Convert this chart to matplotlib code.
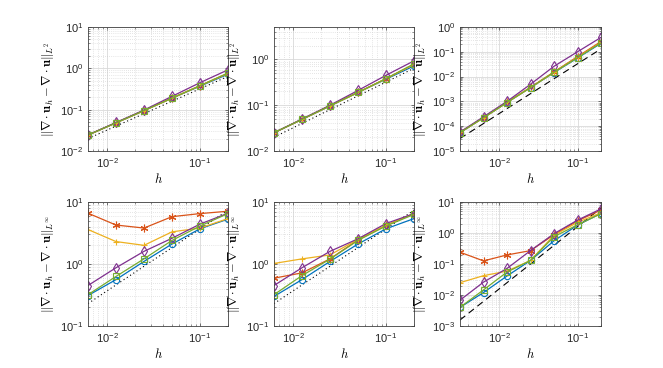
import numpy as np
import matplotlib
matplotlib.use("Agg")
import matplotlib.pyplot as plt
from matplotlib.ticker import LogLocator, NullFormatter

plt.rcParams["font.family"] = ["Liberation Sans", "DejaVu Sans"]

# mesh sizes (ascending)
h6 = [0.00625, 0.0125, 0.025, 0.05, 0.1, 0.2]
h7 = [0.003125, 0.00625, 0.0125, 0.025, 0.05, 0.1, 0.2]

# ---- top row: L2 error ----------------------------------------------------
tl_blue   = [0.0243, 0.048, 0.095, 0.19, 0.37, 0.72]
tl_orange = [0.0243, 0.048, 0.095, 0.19, 0.38, 0.76]
tl_yellow = [0.0243, 0.048, 0.095, 0.19, 0.38, 0.76]
tl_purple = [0.0245, 0.049, 0.098, 0.21, 0.45, 0.92]
tl_green  = [0.0243, 0.048, 0.095, 0.19, 0.38, 0.77]

tm_blue   = [0.025, 0.049, 0.096, 0.19, 0.37, 0.72]
tm_orange = [0.025, 0.049, 0.097, 0.19, 0.38, 0.78]
tm_yellow = [0.025, 0.049, 0.097, 0.19, 0.38, 0.78]
tm_purple = [0.025, 0.050, 0.100, 0.21, 0.45, 0.93]
tm_green  = [0.025, 0.049, 0.097, 0.19, 0.38, 0.80]

tr_blue   = [5.5e-5, 2.2e-4, 9.0e-4, 3.6e-3, 0.0145, 0.056, 0.22]
tr_orange = [5.6e-5, 2.2e-4, 9.2e-4, 3.7e-3, 0.0155, 0.064, 0.26]
tr_yellow = [5.6e-5, 2.2e-4, 9.1e-4, 3.6e-3, 0.0150, 0.060, 0.24]
tr_purple = [5.8e-5, 2.4e-4, 1.0e-3, 4.9e-3, 0.026, 0.10, 0.38]
tr_green  = [5.5e-5, 2.2e-4, 9.0e-4, 3.6e-3, 0.0150, 0.058, 0.23]

# ---- bottom row: Linf error -----------------------------------------------
bl_blue   = [0.31, 0.56, 1.1, 2.1, 3.7, 5.3]
bl_orange = [6.6, 4.25, 3.8, 5.8, 6.5, 7.1]
bl_yellow = [3.6, 2.3, 2.0, 3.3, 3.8, 5.4]
bl_purple = [0.45, 0.87, 1.6, 2.6, 4.4, 6.6]
bl_green  = [0.32, 0.63, 1.21, 2.4, 4.1, 6.5]

bm_blue   = [0.30, 0.56, 1.1, 2.1, 3.7, 5.4]
bm_orange = [0.59, 0.72, 1.21, 2.45, 4.2, 6.5]
bm_yellow = [1.02, 1.21, 1.4, 2.5, 4.2, 6.5]
bm_purple = [0.45, 0.87, 1.6, 2.55, 4.5, 6.5]
bm_green  = [0.32, 0.65, 1.2, 2.4, 4.1, 6.3]

br_blue   = [0.004, 0.012, 0.041, 0.13, 0.56, 1.8, 4.3]
br_orange = [0.24, 0.126, 0.196, 0.27, 0.88, 2.47, 5.5]
br_yellow = [0.025, 0.042, 0.059, 0.13, 0.85, 2.2, 4.5]
br_purple = [0.0068, 0.026, 0.072, 0.27, 0.95, 2.6, 6.0]
br_green  = [0.004, 0.0146, 0.055, 0.13, 0.76, 1.83, 4.2]

# reference slopes: (start value, order)
ref_tl = (0.020, 1)
ref_tm = (0.020, 1)
ref_tr = (3.2e-5, 2)
ref_bl = (0.23, 1)
ref_bm = (0.23, 1)
ref_br = (0.00156, 2)

COLORS  = ["#0072BD", "#D95319", "#EDB120", "#7E2F8E", "#77AC30"]
MARKERS = ["o", (6, 2, 0), "+", "d", "s"]
MSIZES  = [4.5, 5.5, 5, 5, 4.5]

L2_LABEL   = r"$\|\nabla\cdot\mathbf{u}_h-\nabla\cdot\mathbf{u}\|_{L^2}$"
LINF_LABEL = r"$\|\nabla\cdot\mathbf{u}_h-\nabla\cdot\mathbf{u}\|_{L^\infty}$"

panels = [
    # (left, top, width, height) in px, h, series, ref, ref style, ylim, ylabel
    ((88, 27, 140, 124), h6, [tl_blue, tl_orange, tl_yellow, tl_purple, tl_green],
     ref_tl, ":", (1e-2, 1e1), L2_LABEL),
    ((274, 27, 140, 124), h6, [tm_blue, tm_orange, tm_yellow, tm_purple, tm_green],
     ref_tm, ":", (1e-2, 5.1), L2_LABEL),
    ((460, 27, 141, 124), h7, [tr_blue, tr_orange, tr_yellow, tr_purple, tr_green],
     ref_tr, "--", (1e-5, 1e0), L2_LABEL),
    ((88, 202, 140, 124), h6, [bl_blue, bl_orange, bl_yellow, bl_purple, bl_green],
     ref_bl, ":", (1e-1, 1e1), LINF_LABEL),
    ((274, 202, 140, 124), h6, [bm_blue, bm_orange, bm_yellow, bm_purple, bm_green],
     ref_bm, ":", (1e-1, 1e1), LINF_LABEL),
    ((460, 202, 141, 124), h7, [br_blue, br_orange, br_yellow, br_purple, br_green],
     ref_br, "--", (1e-3, 1e1), LINF_LABEL),
]

W, H = 663, 368
fig = plt.figure(figsize=(W / 100, H / 100), dpi=100)

for (x0, y0, w, hh), hs, series, (r0, order), rstyle, ylim, ylabel in panels:
    ax = fig.add_axes([x0 / W, 1 - (y0 + hh) / H, w / W, hh / H])
    hs = np.array(hs)
    ax.plot(hs, r0 * (hs / hs[0]) ** order, color="k", lw=0.8,
            dashes=(1, 2.5) if rstyle == ":" else (6, 4))
    for vals, c, m, ms in zip(series, COLORS, MARKERS, MSIZES):
        filled = m == "+" or isinstance(m, tuple)
        ax.plot(hs, vals, color=c, marker=m, markersize=ms,
                markerfacecolor=c if filled else "none",
                markeredgewidth=0.8, lw=0.9)
    ax.set_xscale("log")
    ax.set_yscale("log")
    ax.set_xlim(hs[0], hs[-1])
    ax.set_ylim(*ylim)
    ax.xaxis.set_major_locator(LogLocator(base=10, numticks=10))
    ax.yaxis.set_major_locator(LogLocator(base=10, numticks=10))
    ax.xaxis.set_minor_locator(LogLocator(base=10, subs=np.arange(2, 10), numticks=20))
    ax.yaxis.set_minor_locator(LogLocator(base=10, subs=np.arange(2, 10), numticks=20))
    ax.xaxis.set_minor_formatter(NullFormatter())
    ax.yaxis.set_minor_formatter(NullFormatter())
    ax.grid(True, which="major", color="0.85", lw=0.6)
    ax.grid(True, which="minor", color="0.8", lw=0.5, linestyle=(0, (1, 2)))
    ax.set_axisbelow(True)
    ax.tick_params(which="both", direction="in", top=True, right=True,
                   colors="0.25", labelsize=8, labelcolor="0.15")
    ax.tick_params(which="major", length=2.5, width=0.5)
    ax.tick_params(which="minor", length=1.5, width=0.4)
    for s in ax.spines.values():
        s.set_color("0.25")
        s.set_linewidth(0.6)
    ax.set_xlabel(r"$h$", fontsize=9, math_fontfamily="cm", labelpad=2)
    ax.set_ylabel(ylabel, fontsize=9, math_fontfamily="cm", labelpad=3)

fig.savefig("out.png", dpi=100)
